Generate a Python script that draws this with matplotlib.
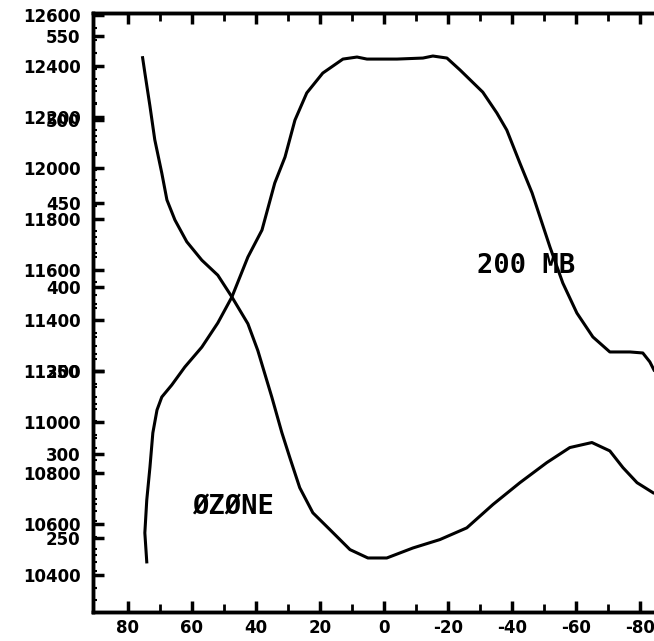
import matplotlib
matplotlib.use("Agg")
import matplotlib.pyplot as plt

# latitude (deg) and total ozone along the ozone curve
oz_lat = [75.4, 74.7, 73.1, 71.6, 69.4, 67.8, 65.3, 61.6, 56.9, 51.9, 47.5, 42.5,
          39.4, 35.0, 31.9, 29.4, 26.3, 22.2, 16.9, 10.6, 5.0, -0.9, -9.1, -17.5,
          -25.9, -34.1, -42.5, -50.9, -58.1, -65.0, -70.6, -74.7, -79.1, -84.1]
ozone = [537, 528, 508, 488, 468, 452, 440, 427, 416, 407, 394, 378,
         362, 334, 313, 298, 280, 265, 255, 243, 238, 238, 244, 249,
         256, 270, 283, 295, 304, 307, 302, 292, 283, 277]

# latitude (deg) and 200 mb height (m)
z_lat = [74.1, 74.7, 74.1, 73.1, 72.2, 70.9, 69.4, 66.3, 62.2, 56.9, 51.9, 47.5,
         42.5, 38.1, 34.1, 30.9, 27.8, 24.1, 19.1, 12.8, 8.4, 5.3, -4.1, -12.2,
         -15.3, -19.7, -23.8, -30.9, -35.3, -38.4, -42.5, -46.3, -51.9, -55.9,
         -60.3, -65.3, -70.6, -76.9, -80.9, -83.1, -84.4]
height = [10451, 10565, 10694, 10824, 10958, 11048, 11099, 11146, 11217, 11295, 11390, 11492,
          11649, 11755, 11940, 12042, 12187, 12294, 12372, 12427, 12435, 12427, 12427, 12431,
          12439, 12431, 12384, 12297, 12215, 12148, 12018, 11901, 11688, 11547,
          11429, 11335, 11276, 11276, 11272, 11237, 11205]

x_ticks = [80, 60, 40, 20, 0, -20, -40, -60, -80]
z_ticks = [10400, 10600, 10800, 11000, 11200, 11400, 11600, 11800, 12000, 12200, 12400, 12600]
oz_ticks = [250, 300, 350, 400, 450, 500, 550]

fig = plt.figure(figsize=(6.54, 6.41), dpi=100)
ax = fig.add_axes([0.1422, 0.0452, 0.8578, 0.9345])
ax2 = ax.twinx()

ax.plot(z_lat, height, color='black', lw=2.2)
ax2.plot(oz_lat, ozone, color='black', lw=2.2)

ax.set_xlim(90.9, -84.4)
ax.set_ylim(10254, 12608)
ax2.set_ylim(205.7, 563.7)

for a in (ax, ax2):
    a.spines['right'].set_visible(False)
    a.spines['left'].set_linewidth(2.5)
    a.spines['bottom'].set_linewidth(2.5)
    a.spines['top'].set_linewidth(2.5)

ax.set_xticks(x_ticks)
ax.set_xticklabels([str(v) for v in x_ticks], fontsize=12, fontweight='bold')
ax.set_xticks(range(-80, 90, 10), minor=True)
ax.tick_params(axis='x', which='both', direction='in', top=True, pad=5,
               length=8, width=2.5)
ax.tick_params(axis='x', which='minor', length=6, width=2)

ax.set_yticks(z_ticks)
ax.set_yticklabels([str(v) for v in z_ticks], fontsize=12, fontweight='bold')
ax.set_yticks(range(10300, 12600, 50), minor=True)
ax.tick_params(axis='y', which='major', direction='in', length=8, width=2.5, pad=9)
ax.tick_params(axis='y', which='minor', direction='in', length=3, width=1.5)

# ozone scale shares the left edge with the height scale
ax2.yaxis.tick_left()
ax2.set_yticks(oz_ticks)
ax2.set_yticklabels([str(v) for v in oz_ticks], fontsize=12, fontweight='bold')
ax2.set_yticks(range(220, 560, 10), minor=True)
ax2.tick_params(axis='y', which='major', direction='in', length=8, width=2.5, pad=9)
ax2.tick_params(axis='y', which='minor', direction='in', length=3, width=1.5)

ax.text(47.2, 10667, 'ØZØNE', fontsize=19.5, family='DejaVu Sans Mono',
        fontweight='bold', ha='center', va='center')
ax.text(-44.4, 11614, '200 MB', fontsize=19.5, family='DejaVu Sans Mono',
        fontweight='bold', ha='center', va='center')

fig.savefig('out.png', dpi=100)
